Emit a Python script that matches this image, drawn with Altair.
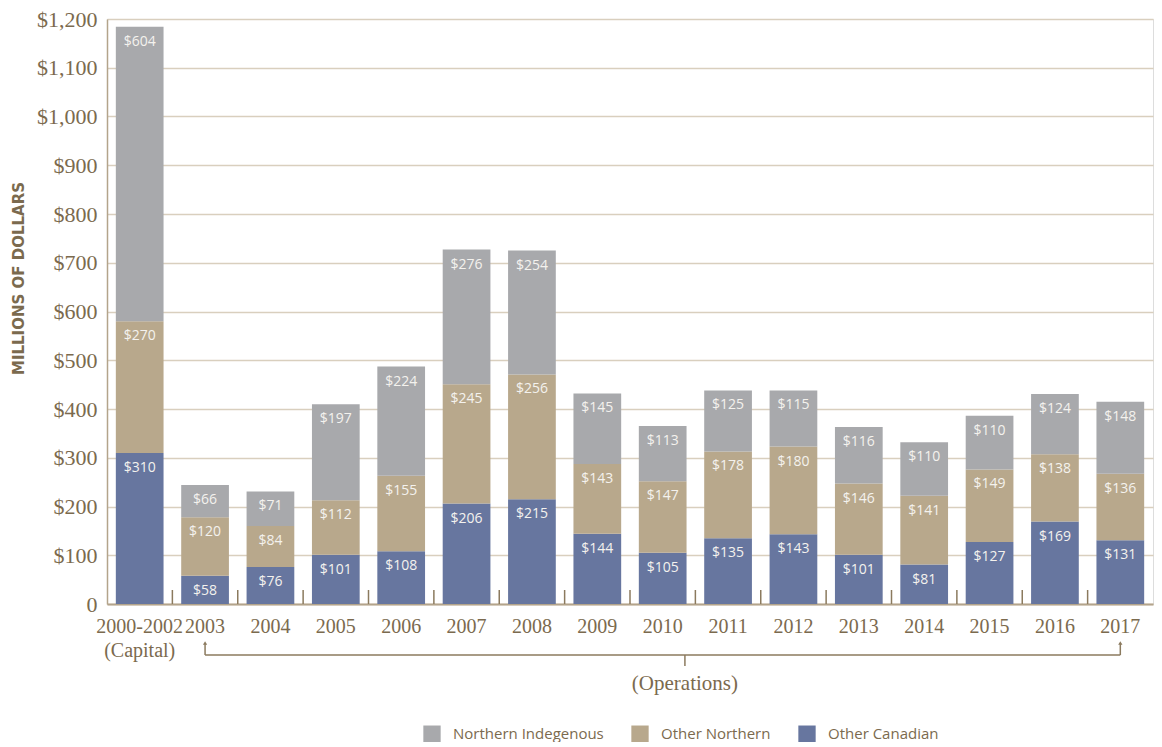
import altair as alt
import pandas as pd

years = ["2000-2002", "2003", "2004", "2005", "2006", "2007", "2008", "2009",
         "2010", "2011", "2012", "2013", "2014", "2015", "2016", "2017"]
other_canadian = [310, 58, 76, 101, 108, 206, 215, 144, 105, 135, 143, 101, 81, 127, 169, 131]
other_northern = [270, 120, 84, 112, 155, 245, 256, 143, 147, 178, 180, 146, 141, 149, 138, 136]
northern_indig = [604, 66, 71, 197, 224, 276, 254, 145, 113, 125, 115, 116, 110, 110, 124, 148]
series_names = ["Northern Indegenous", "Other Northern", "Other Canadian"]
series_colors = ["#a8a9ac", "#b8a88c", "#67769f"]
y_ticks = [0, 100, 200, 300, 400, 500, 600, 700, 800, 900, 1000, 1100, 1200]

BROWN = "#7b6a4e"
LINE = "#8b7a5e"
SERIF = "Liberation Serif"
SANS = "Open Sans"

rows = []
for i, yr in enumerate(years):
    base = 0
    for name, vals in [("Other Canadian", other_canadian),
                       ("Other Northern", other_northern),
                       ("Northern Indegenous", northern_indig)]:
        v = vals[i]
        rows.append({"year": yr, "series": name, "value": v, "y0": base, "y1": base + v,
                     "label": f"${v}"})
        base += v
df = pd.DataFrame(rows)

xscale = alt.Scale(domain=years, paddingInner=0, paddingOuter=0)


def X(**kw):
    return alt.X("year:N", sort=years, scale=xscale, **kw)


bars = alt.Chart(df).mark_bar(width={"band": 0.73}).encode(
    x=X(title=None, axis=alt.Axis(
        labelAngle=0, ticks=False, domain=True, domainColor="#b3a48b", domainWidth=2,
        labelFont=SERIF, labelFontSize=20, labelColor=BROWN, labelPadding=12,
        labelLineHeight=24, grid=False,
        labelExpr="datum.value == '2000-2002' ? ['2000-2002', '(Capital)'] : datum.value")),
    y=alt.Y("y0:Q", scale=alt.Scale(domain=[0, 1200], nice=False),
            title="MILLIONS OF DOLLARS",
            axis=alt.Axis(values=y_ticks, ticks=False, domain=True, domainColor="#b3a48b",
                          domainWidth=1.5, grid=True, gridColor="#d9cfbe", gridWidth=1.5,
                          labelFont=SERIF, labelFontSize=22, labelColor=BROWN, labelPadding=10,
                          labelExpr="datum.value == 0 ? '0' : '$' + format(datum.value, ',')",
                          titleFont="DejaVu Sans", titleFontWeight="bold", titleFontSize=15,
                          titleColor=BROWN, titleAngle=270, titleX=-89, titleY=259,
                          titleAlign="center", titleBaseline="middle")),
    y2="y1:Q",
    color=alt.Color("series:N", scale=alt.Scale(domain=series_names, range=series_colors),
                    legend=alt.Legend(orient="none", legendX=316, legendY=706,
                                      direction="horizontal", title=None,
                                      symbolType="square", symbolSize=300,
                                      symbolStrokeWidth=0, symbolOpacity=1,
                                      labelFont=SANS, labelFontSize=15, labelColor=BROWN,
                                      labelOffset=12, columnPadding=27, labelLimit=300)),
)

labels = alt.Chart(df).mark_text(font=SANS, fontSize=14, color="#f4f2ee",
                                 baseline="alphabetic", dy=19).encode(
    x=X(),
    y=alt.Y("y1:Q"),
    text="label:N",
)

# dividers at the boundary before each band (except the first)
div_df = pd.DataFrame({"year": years[1:]})
dividers = alt.Chart(div_df).mark_rule(color=LINE, strokeWidth=1.5).encode(
    x=X(bandPosition=0),
    y=alt.value(571),
    y2=alt.value(585),
)

bracket_df = pd.DataFrame({"year": ["2003"], "year2": ["2017"]})
bracket_h = alt.Chart(bracket_df).mark_rule(color=LINE, strokeWidth=1.5).encode(
    x=X(),
    x2=alt.X2("year2:N"),
    y=alt.value(636),
)

ends_df = pd.DataFrame({"year": ["2003", "2017"]})
bracket_v = alt.Chart(ends_df).mark_rule(color=LINE, strokeWidth=1.5).encode(
    x=X(),
    y=alt.value(624),
    y2=alt.value(636),
)
arrows = alt.Chart(ends_df).mark_point(shape="triangle-up", filled=True, color=LINE,
                                       size=18, opacity=1).encode(
    x=X(),
    y=alt.value(624),
)

mid_df = pd.DataFrame({"year": ["2010"], "text": ["(Operations)"]})
mid_tick = alt.Chart(mid_df).mark_rule(color=LINE, strokeWidth=1.5).encode(
    x=X(bandPosition=0.84),
    y=alt.value(636),
    y2=alt.value(647),
)
mid_text = alt.Chart(mid_df).mark_text(font=SERIF, fontSize=21, color=BROWN,
                                       baseline="middle").encode(
    x=X(bandPosition=0.84),
    y=alt.value(665),
    text="text:N",
)

chart = alt.layer(bars, labels, dividers, bracket_h, bracket_v, arrows, mid_tick, mid_text).properties(
    width=1046, height=585,
    autosize=alt.AutoSizeParams(type="none"),
    padding={"left": 99, "top": 11, "right": 1, "bottom": 138},
).configure_view(stroke=None).configure(background="white")

chart.save("out.html", embed_options={"renderer": "svg", "actions": False})
